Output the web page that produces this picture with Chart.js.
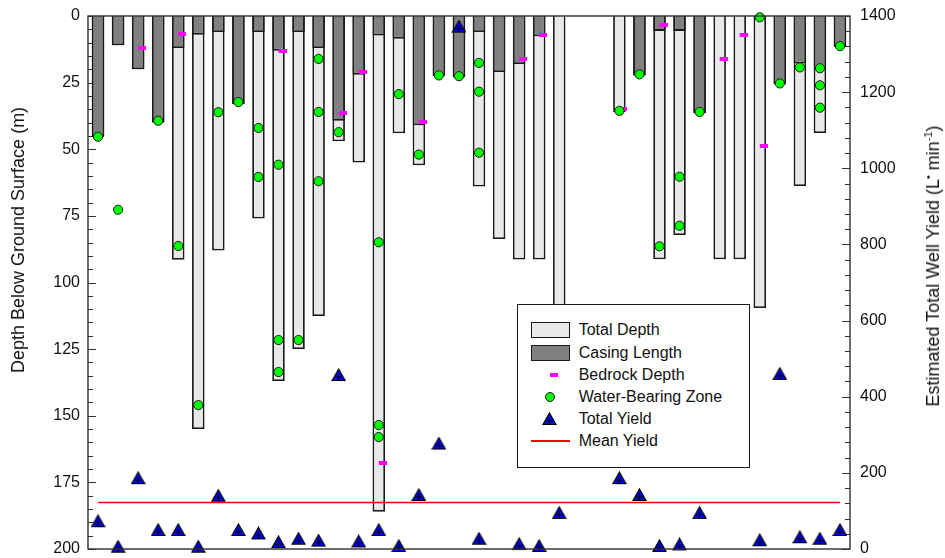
<!DOCTYPE html>
<html>
<head>
<meta charset="utf-8">
<script src="https://cdn.jsdelivr.net/npm/chart.js@4.4.1/dist/chart.umd.min.js"></script>
<style>
html,body{margin:0;padding:0;background:#fff;}
#wrap{position:relative;width:945px;height:558px;font-family:Arial,"Liberation Sans",sans-serif;color:#000;overflow:hidden;}
#c{position:absolute;left:0;top:0;}
.ytitle{position:absolute;white-space:nowrap;font-size:18px;line-height:1;transform:translate(-50%,-50%) rotate(-90deg);color:#111;}
.ytitle sup{font-size:11px;position:relative;top:-7px;vertical-align:baseline;}
#legend{position:absolute;left:517px;top:304px;width:233px;height:164px;box-sizing:border-box;border:1.3px solid #1a1a1a;background:#fff;}
.lrow{position:absolute;left:0;width:100%;height:22px;}
.ltext{position:absolute;left:60.7px;top:0;line-height:22px;font-size:16px;white-space:nowrap;color:#111;}
.lsym{position:absolute;}
</style>
</head>
<body>
<div id="wrap">
  <canvas id="c" width="945" height="558"></canvas>
  <div class="ytitle" id="tLeft" style="left:18px;top:240px;">Depth Below Ground Surface (m)</div>
  <div class="ytitle" id="tRight" style="left:933px;top:266px;">Estimated Total Well Yield (L<sup>&#8226;</sup> min<sup>-1</sup>)</div>
  <div id="legend"></div>
</div>
<script>
// ---------------- DATA ----------------
const wells = ['1','2','3','4','5','6','7','8','9','10','11','12','13','14','15','16','17','18','19','20',
               '21','22','23','24','25','26','27','28','29','30','31','32','33','34','35','36','37','38'];

// Total well depth (m below ground surface)
const totalDepth = [45.3, 11, 20, 40, 91.5, 155, 88, 33, 76, 137, 125, 112.6, 47, 55, 186, 44, 56, 22.5, 23, 64,
                    83.7, 91.4, 91.4, 122, null, null, 36, 22.3, 91.3, 82.2, 36.5, 91.3, 91.3, 109.6, 25.6, 63.8, 43.9, 11.5];

// Casing length (m)
const casingLength = [45.3, 11, 20, 40, 12, 7, 6, 33, 6, 13, 6, 12, 39.3, 22, 7.3, 8.5, 41, 22.5, 23, 6,
                      21, 18, 7.6, null, null, null, null, 22.3, 5.6, 5.6, 36.5, null, null, null, 25.6, 17.8, 19.9, 11.5];

// Depth to bedrock (m)
const bedrockDepth = [null, null, 12, null, 6.6, null, null, null, null, 13, null, null, 36.4, 21, 167.7, null, 39.7, null, null, null,
                      null, 16.1, 7.1, null, null, null, 35, null, 3.4, null, null, 16.1, 7.1, 48.7, null, null, null, null];

// Water-bearing zones (m) - up to three per well
const waterZone1 = [45.3, 72.7, null, 39.3, 86.3, 146, 36.1, 32.3, 42, 55.8, 121.6, 16.1, 43.6, null, 84.9, 29.3, 52, 22.3, 22.6, 17.6,
                    null, null, null, null, null, null, 35.6, 21.9, 86.4, 60.3, 36, null, null, 0.5, 25.3, 19.3, 19.6, 11.3];
const waterZone2 = [null, null, null, null, null, null, null, null, 60.4, 121.6, null, 36, null, null, 153.5, null, null, null, null, 28.4,
                    null, null, null, null, null, null, null, null, null, 78.7, null, null, null, null, null, null, 26, null];
const waterZone3 = [null, null, null, null, null, null, null, null, null, 133.6, null, 62, null, null, 158, null, null, null, null, 51.3,
                    null, null, null, null, null, null, null, null, null, null, null, null, null, null, null, null, 34.4, null];

// Estimated total well yield (L/min)
const totalYield = [73, 6, 186, 50, 50, 6, 140, 50, 41, 18, 27, 22, 457, 20, 50, 8, 142, 277, 1372, 27,
                    null, 13, 8, 95, null, null, 186, 142, 8, 12, 95, null, null, 23, 460, 31, 27, 50];

// Mean yield (L/min)
const meanYield = 122;

// Axis ticks
const depthTicks = [0, 25, 50, 75, 100, 125, 150, 175, 200];
const yieldTicks = [0, 200, 400, 600, 800, 1000, 1200, 1400];

// Series names (legend order)
const seriesNames = ['Total Depth', 'Casing Length', 'Bedrock Depth', 'Water-Bearing Zone', 'Total Yield', 'Mean Yield'];

// ---------------- MARKERS ----------------
function makeTriangle() {
  const c = document.createElement('canvas');
  c.width = 15; c.height = 14;
  const g = c.getContext('2d');
  g.beginPath(); g.moveTo(7.5, 1); g.lineTo(14, 12.5); g.lineTo(1, 12.5); g.closePath();
  g.fillStyle = '#0000ff'; g.fill();
  g.lineWidth = 1.2; g.strokeStyle = '#000'; g.stroke();
  g.beginPath(); g.moveTo(7.5, 5.5); g.lineTo(7.5, 12.5); g.moveTo(4.3, 9); g.lineTo(10.7, 9);
  g.lineWidth = 1.2; g.stroke();
  return c;
}
function makeDash() {
  const c = document.createElement('canvas');
  c.width = 16; c.height = 4;
  const g = c.getContext('2d');
  g.fillStyle = '#ff00ff';
  g.fillRect(8, 0, 8, 4);
  return c;
}
const triImg = makeTriangle();
const dashImg = makeDash();

// water-bearing points built from the zone arrays
const waterPts = [];
[waterZone1, waterZone2, waterZone3].forEach(arr => {
  arr.forEach((v, i) => { if (v !== null) waterPts.push({x: wells[i], y: v}); });
});
const meanPts = [{x: wells[0], y: meanYield}, {x: wells[wells.length - 1], y: meanYield}];

// ---------------- PLUGIN: frame and inward ticks ----------------
const framePlugin = {
  id: 'frameTicks',
  beforeDatasetsDraw(chart) {
    const ctx = chart.ctx, a = chart.chartArea;
    const yS = chart.scales.y, y2S = chart.scales.y2;
    ctx.save();
    ctx.strokeStyle = '#303030';
    ctx.lineWidth = 1;
    for (let v = yS.min; v <= yS.max; v += 5) {
      const p = Math.round(yS.getPixelForValue(v)) + 0.5;
      const len = (v % 25 === 0) ? 8 : 5;
      ctx.beginPath(); ctx.moveTo(a.left, p); ctx.lineTo(a.left + len, p); ctx.stroke();
    }
    for (let v = y2S.min; v <= y2S.max; v += 40) {
      const p = Math.round(y2S.getPixelForValue(v)) + 0.5;
      const len = (v % 200 === 0) ? 8 : 5;
      ctx.beginPath(); ctx.moveTo(a.right, p); ctx.lineTo(a.right - len, p); ctx.stroke();
    }
    ctx.restore();
  },
  afterDatasetsDraw(chart) {
    const ctx = chart.ctx, a = chart.chartArea;
    ctx.save();
    ctx.strokeStyle = '#303030';
    ctx.lineWidth = 1.4;
    ctx.strokeRect(a.left, a.top, a.right - a.left, a.bottom - a.top);
    ctx.restore();
  }
};

const tickFont = {family: 'Arial, "Liberation Sans", sans-serif', size: 16, lineHeight: 1};

const chart = new Chart(document.getElementById('c'), {
  type: 'bar',
  data: {
    labels: wells,
    datasets: [
      {type: 'line', label: seriesNames[4], data: totalYield, yAxisID: 'y2', showLine: false,
       pointStyle: triImg, pointRadius: 6, order: 1, clip: false},
      {type: 'line', label: seriesNames[3], data: waterPts, yAxisID: 'y', showLine: false,
       pointStyle: 'circle', pointRadius: 4.6, pointBackgroundColor: '#00ff00', pointBorderColor: '#1a1a1a',
       pointBorderWidth: 1, order: 2, clip: false},
      {type: 'line', label: seriesNames[2], data: bedrockDepth, yAxisID: 'y', showLine: false,
       pointStyle: dashImg, pointRadius: 4, order: 3, clip: false},
      {type: 'line', label: seriesNames[5], data: meanPts, yAxisID: 'y2', borderColor: '#ff0000',
       borderWidth: 1.6, pointRadius: 0, order: 4},
      {type: 'bar', label: seriesNames[1], data: casingLength, yAxisID: 'y', backgroundColor: '#808080',
       borderColor: '#1a1a1a', borderWidth: 1.8, grouped: false, categoryPercentage: 0.625, barPercentage: 1, order: 5},
      {type: 'bar', label: seriesNames[0], data: totalDepth, yAxisID: 'y', backgroundColor: '#e8e8e8',
       borderColor: '#1a1a1a', borderWidth: 1.8, grouped: false, categoryPercentage: 0.625, barPercentage: 1, order: 6}
    ]
  },
  options: {
    responsive: false,
    devicePixelRatio: 1,
    animation: false,
    events: [],
    layout: {padding: {top: 16, bottom: 9, left: 0, right: 0}},
    plugins: {legend: {display: false}, tooltip: {enabled: false}, title: {display: false}},
    scales: {
      x: {type: 'category', display: false, offset: true, grid: {offset: true}},
      y: {
        position: 'left', reverse: true, min: 0, max: 200,
        afterFit(s) { s.width = 88; s.paddingTop = 0; s.paddingBottom = 0; },
        afterBuildTicks(s) { s.ticks = depthTicks.map(v => ({value: v})); },
        grid: {display: false, drawTicks: false}, border: {display: false},
        ticks: {font: tickFont, color: '#111', padding: 8, callback: v => String(v)}
      },
      y2: {
        position: 'right', min: 0, max: 1400,
        afterFit(s) { s.width = 95; s.paddingTop = 0; s.paddingBottom = 0; },
        afterBuildTicks(s) { s.ticks = yieldTicks.map(v => ({value: v})); },
        grid: {display: false, drawTicks: false}, border: {display: false},
        ticks: {font: tickFont, color: '#111', padding: 10, callback: v => String(v)}
      }
    }
  },
  plugins: [framePlugin]
});

// ---------------- LEGEND (HTML) ----------------
(function buildLegend() {
  const box = document.getElementById('legend');
  const rowTop0 = 14.4, rowStep = 22.2, symCx = 31.7;
  seriesNames.forEach((name, i) => {
    const row = document.createElement('div');
    row.className = 'lrow';
    row.style.top = (rowTop0 + rowStep * i) + 'px';
    let sym;
    if (i === 0 || i === 1) {
      sym = document.createElement('div');
      sym.style.cssText = 'left:12.7px;top:3px;width:39px;height:16px;box-sizing:border-box;border:1.8px solid #1a1a1a;background:' + (i === 0 ? '#e8e8e8' : '#808080');
    } else if (i === 2) {
      sym = makeDash();
      sym.style.left = (symCx - 8) + 'px'; sym.style.top = '9px';
    } else if (i === 3) {
      sym = document.createElement('div');
      sym.style.cssText = 'left:' + (symCx - 5) + 'px;top:6px;width:10px;height:10px;box-sizing:border-box;border-radius:50%;border:1px solid #1a1a1a;background:#00ff00;';
    } else if (i === 4) {
      sym = makeTriangle();
      sym.style.left = (symCx - 7.5) + 'px'; sym.style.top = '4px';
    } else {
      sym = document.createElement('div');
      sym.style.cssText = 'left:12.7px;top:10px;width:39px;height:2px;background:#ff0000;';
    }
    sym.classList.add('lsym');
    sym.style.position = 'absolute';
    row.appendChild(sym);
    const t = document.createElement('span');
    t.className = 'ltext';
    t.textContent = name;
    row.appendChild(t);
    box.appendChild(row);
  });
})();
</script>
</body>
</html>
